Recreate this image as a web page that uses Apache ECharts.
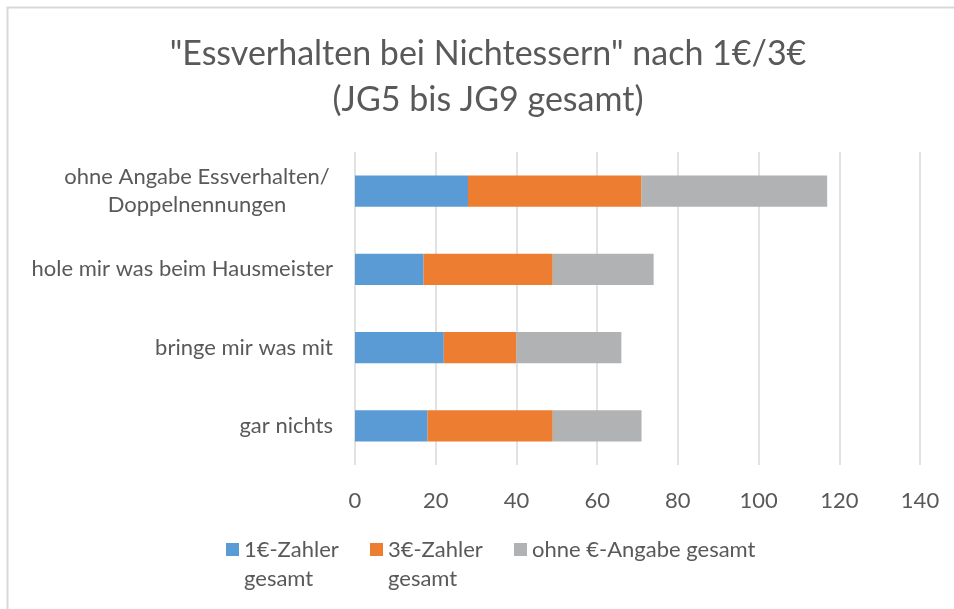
<!DOCTYPE html>
<html>
<head>
<meta charset="utf-8">
<title>Essverhalten bei Nichtessern</title>
<script src="https://cdn.jsdelivr.net/npm/echarts@6/dist/echarts.min.js"></script>
<style>
  html, body { margin: 0; padding: 0; background: #fff; }
  #chart { width: 954px; height: 609px; }
</style>
</head>
<body>
<div id="chart"></div>
<script>
// categories, bottom -> top (category axis on y starts at the bottom)
const categories = ['gar nichts', 'bringe mir was mit', 'hole mir was beim Hausmeister', 'ohne Angabe Essverhalten/\nDoppelnennungen']
const seriesNames = ['1€-Zahler\ngesamt', '3€-Zahler\ngesamt', 'ohne €-Angabe gesamt']

const zahler1 = [18, 22, 17, 28]
const zahler3 = [31, 18, 32, 43]
const ohneAngabe = [22, 26, 25, 46]

const xTicks = [0, 20, 40, 60, 80, 100, 120, 140]

const colorArr = ['#5b9bd5', '#ed7d31', '#b1b2b3']
const textColor = '#595959'
const fontFamily = 'Lato, "Open Sans", sans-serif'
const labelSize = 22

const chart = echarts.init(document.getElementById('chart'))

// one legend per item so the positions can be set like in the excel picture
// legend text is centered on the icon, so 2-line names get an empty line on top
// (then the first line sits next to the icon). top = top of the text box
function makeLegend(name, left, twoLines) {
  return {
    left: left,
    top: twoLines ? 506 : 535,
    padding: 0,
    orient: 'horizontal',
    icon: 'rect',
    itemWidth: 13,
    itemHeight: 13,
    selectedMode: false,
    formatter: twoLines ? '\n{name}' : '{name}',
    textStyle: {
      color: textColor,
      fontFamily: fontFamily,
      fontSize: labelSize,
      lineHeight: 29
    },
    data: [name]
  }
}

const seriesData = [zahler1, zahler3, ohneAngabe]

chart.setOption({
  animation: false,
  color: colorArr,
  title: {
    text: '"Essverhalten bei Nichtessern" nach 1€/3€\n(JG5 bis JG9 gesamt)',
    left: 488,
    top: 31,
    padding: 0,
    textAlign: 'center',
    textStyle: {
      color: textColor,
      fontFamily: fontFamily,
      fontWeight: 'normal',
      fontSize: 34,
      lineHeight: 46
    }
  },
  legend: [
    makeLegend(seriesNames[0], 226, true),
    makeLegend(seriesNames[1], 370, true),
    makeLegend(seriesNames[2], 514, false)
  ],
  graphic: [{
    // chart area border (only top and left are visible in the picture)
    type: 'rect',
    silent: true,
    shape: { x: 7.5, y: 7.5, width: 1000, height: 700 },
    style: { fill: 'none', stroke: '#d9d9d9', lineWidth: 2 }
  }],
  grid: {
    left: 355,
    right: 34,
    top: 152,
    bottom: 144,
    containLabel: false
  },
  xAxis: {
    type: 'value',
    min: xTicks[0],
    max: xTicks[xTicks.length - 1],
    interval: 20,
    axisLine: { show: false },
    axisTick: { show: false },
    splitLine: { lineStyle: { color: '#d9d9d9', width: 1.5 } },
    axisLabel: {
      color: textColor,
      fontFamily: fontFamily,
      fontSize: labelSize,
      margin: 25
    }
  },
  yAxis: {
    type: 'category',
    data: categories,
    axisLine: { show: false },
    axisTick: { show: false },
    splitLine: { show: false },
    axisLabel: {
      color: textColor,
      fontFamily: fontFamily,
      fontSize: labelSize,
      lineHeight: 28,
      margin: 22,
      formatter: function (val) {
        if (val.indexOf('\n') < 0) return val
        // wrapped labels are centered on each other
        return val.split('\n').map(function (s) { return '{c|' + s + '}' }).join('\n')
      },
      rich: {
        c: {
          width: 272,
          align: 'center',
          color: textColor,
          fontFamily: fontFamily,
          fontSize: labelSize,
          lineHeight: 28
        }
      }
    }
  },
  series: seriesNames.map(function (name, i) {
    return {
      name: name,
      type: 'bar',
      stack: 'total',
      barWidth: '40%',
      itemStyle: { color: colorArr[i] },
      data: seriesData[i]
    }
  })
})
</script>
</body>
</html>
